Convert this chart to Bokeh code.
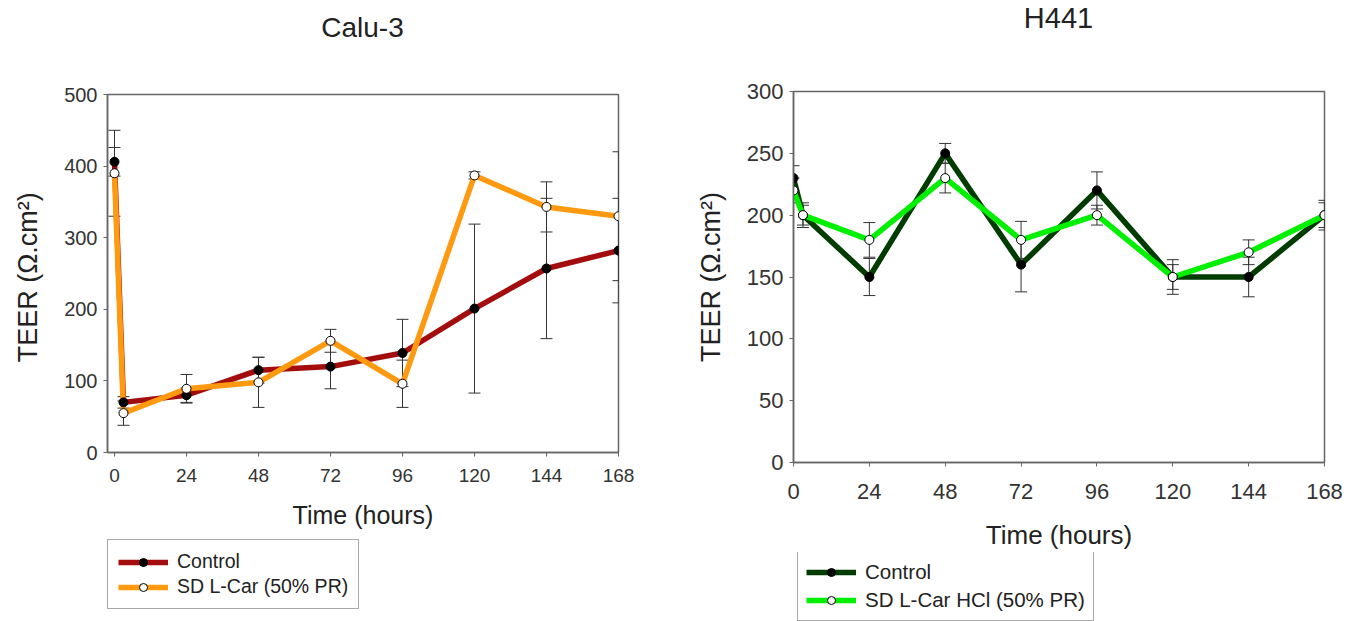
from bokeh.plotting import figure
from bokeh.models import ColumnDataSource, Whisker, TeeHead, Legend, LegendItem, Range1d, FixedTicker, Div
from bokeh.layouts import row, column
from bokeh.embed import file_html
from bokeh.resources import INLINE

# ---------------- data ----------------
hours = [0, 3, 24, 48, 72, 96, 120, 144, 168]
hour_ticks = [0, 24, 48, 72, 96, 120, 144, 168]

calu_control = [406, 70, 80, 115, 120, 139, 201, 257, 282]
calu_control_err = [20, 8, 10, 18, 31, 47, 118, 98, 73]
calu_sd = [390, 55, 89, 98, 156, 96, 387, 343, 330]
calu_sd_err = [60, 17, 20, 35, 16, 33, 5, 35, 90]

h441_control = [230, 200, 150, 250, 160, 220, 150, 150, 200]
h441_control_err = [10, 8, 15, 8, 22, 15, 14, 16, 12]
h441_sd = [220, 200, 180, 230, 180, 200, 150, 170, 200]
h441_sd_err = [10, 10, 14, 12, 15, 8, 10, 10, 10]

calu_labels = ["Control", "SD L-Car (50% PR)"]
h441_labels = ["Control", "SD L-Car HCl (50% PR)"]

FONT = "Liberation Sans"


def make_panel(cfg, ctrl, ctrl_err, sd, sd_err, labels, ctrl_color, sd_color):
    W = 680
    # ---- title (HTML) ----
    title_html = ('<div style="position:absolute; left:%dpx; width:%dpx; top:%dpx; '
                  'text-align:center; font-family:\'%s\'; font-size:%s; line-height:32px; '
                  'color:#222222; white-space:nowrap;">%s</div>'
                  % (cfg["b_left"], cfg["frame_w"], cfg["title_top"], FONT, cfg["title_size"], cfg["title"]))
    title_div = Div(text=title_html, width=W, height=cfg["div_h"], margin=0)

    # ---- main plot ----
    p = figure(frame_width=cfg["frame_w"], frame_height=cfg["frame_h"],
               min_border_left=cfg["b_left"], min_border_right=W - cfg["b_left"] - cfg["frame_w"],
               min_border_top=cfg["b_top"], min_border_bottom=cfg["b_bottom"],
               output_backend="svg", toolbar_location=None, margin=0,
               x_range=Range1d(cfg["x_start"], 168), y_range=Range1d(0, cfg["y_end"]))
    p.grid.visible = False
    p.outline_line_color = "#666666"
    p.outline_line_width = 1.5

    for ax in (p.xaxis[0], p.yaxis[0]):
        ax.axis_line_color = "#666666"
        ax.axis_line_width = 1.5
        ax.major_tick_line_color = "#666666"
        ax.major_tick_out = 4
        ax.major_tick_in = 0
        ax.minor_tick_line_color = None
        ax.major_label_text_font = FONT
        ax.major_label_text_color = "#333333"
        ax.axis_label_text_font = FONT
        ax.axis_label_text_font_style = "normal"
        ax.axis_label_text_color = "#222222"

    p.xaxis[0].ticker = FixedTicker(ticks=hour_ticks)
    p.yaxis[0].ticker = FixedTicker(ticks=list(range(0, cfg["y_end"] + 1, cfg["y_step"])))
    p.xaxis[0].major_label_text_font_size = cfg["xtick_size"]
    p.yaxis[0].major_label_text_font_size = cfg["ytick_size"]
    p.xaxis[0].axis_label = "Time (hours)"
    p.yaxis[0].axis_label = cfg["ylabel"]
    p.xaxis[0].axis_label_text_font_size = cfg["xlabel_size"]
    p.yaxis[0].axis_label_text_font_size = "27px"
    p.xaxis[0].axis_label_standoff = cfg["xlab_standoff"]
    p.yaxis[0].axis_label_standoff = 18
    p.xaxis[0].major_label_standoff = cfg["xtick_standoff"]
    p.yaxis[0].major_label_standoff = 6

    src_c = ColumnDataSource(dict(x=hours, y=ctrl,
                                  lo=[v - e for v, e in zip(ctrl, ctrl_err)],
                                  hi=[v + e for v, e in zip(ctrl, ctrl_err)]))
    src_s = ColumnDataSource(dict(x=hours, y=sd,
                                  lo=[v - e for v, e in zip(sd, sd_err)],
                                  hi=[v + e for v, e in zip(sd, sd_err)]))
    for src in (src_c, src_s):
        p.add_layout(Whisker(source=src, base="x", upper="hi", lower="lo",
                             line_color="#333333", line_width=1,
                             upper_head=TeeHead(size=12, line_color="#333333", line_width=1),
                             lower_head=TeeHead(size=12, line_color="#333333", line_width=1),
                             level="underlay"))

    p.line("x", "y", source=src_c, line_color=ctrl_color, line_width=5.5)
    p.line("x", "y", source=src_s, line_color=sd_color, line_width=5.5)
    p.scatter("x", "y", source=src_c, size=9, marker="circle",
              fill_color="black", line_color="black", line_width=1)
    p.scatter("x", "y", source=src_s, size=9, marker="circle",
              fill_color="white", line_color="black", line_width=1)

    # ---- legend strip (same series, kept out of its visible range) ----
    lg = figure(width=W, height=cfg["leg_h"], min_border=0, margin=0,
                output_backend="svg", toolbar_location=None,
                x_axis_location=None, y_axis_location=None,
                x_range=Range1d(0, 1), y_range=Range1d(-2, -1))
    lg.grid.visible = False
    lg.outline_line_color = None
    lc = lg.line("x", "y", source=src_c, line_color=ctrl_color, line_width=5.5)
    mc = lg.scatter("x", "y", source=src_c, size=9, marker="circle",
                    fill_color="black", line_color="black")
    ls = lg.line("x", "y", source=src_s, line_color=sd_color, line_width=5.5)
    ms = lg.scatter("x", "y", source=src_s, size=9, marker="circle",
                    fill_color="white", line_color="black")
    legend = Legend(items=[LegendItem(label=labels[0], renderers=[lc, mc]),
                           LegendItem(label=labels[1], renderers=[ls, ms])],
                    location=cfg["leg_loc"], orientation="vertical",
                    glyph_width=50, glyph_height=20, label_standoff=9,
                    spacing=cfg["leg_spacing"], padding=cfg["leg_padding"], margin=0,
                    label_text_font=FONT, label_text_font_size=cfg["leg_font"],
                    label_text_color="#222222", label_height=20,
                    border_line_color="#555555", border_line_width=1.5,
                    background_fill_color="white", background_fill_alpha=1)
    lg.add_layout(legend, "center")

    return column(title_div, p, lg, spacing=0, margin=0)


cfg1 = dict(title="Calu-3", title_size="28px", title_top=12, div_h=50,
            frame_w=511, frame_h=358, b_left=107, b_top=44, b_bottom=85,
            x_start=-2.33, y_end=500, y_step=100,
            ytick_size="20px", xtick_size="19px", xlabel_size="25px",
            ylabel="TEER  (\u03a9.cm\u00b2)", xlab_standoff=16, xtick_standoff=12,
            leg_h=84, leg_loc=(0, 12), leg_font="19.5px", leg_spacing=2, leg_padding=10)

cfg2 = dict(title="H441", title_size="29px", title_top=2, div_h=50,
            frame_w=531, frame_h=371, b_left=113, b_top=41, b_bottom=90,
            x_start=0, y_end=300, y_step=50,
            ytick_size="22px", xtick_size="22px", xlabel_size="26px",
            ylabel="TEER (\u03a9.cm\u00b2)", xlab_standoff=18, xtick_standoff=17,
            leg_h=69, leg_loc=(4, 0), leg_font="20.5px", leg_spacing=4, leg_padding=8)

left = make_panel(cfg1, calu_control, calu_control_err, calu_sd, calu_sd_err, calu_labels,
                  "#a30d0d", "#ff9a10")
right = make_panel(cfg2, h441_control, h441_control_err, h441_sd, h441_sd_err, h441_labels,
                   "#003c00", "#00f000")

layout = row(left, right, spacing=0)
open("out.html", "w").write(file_html(layout, INLINE))
